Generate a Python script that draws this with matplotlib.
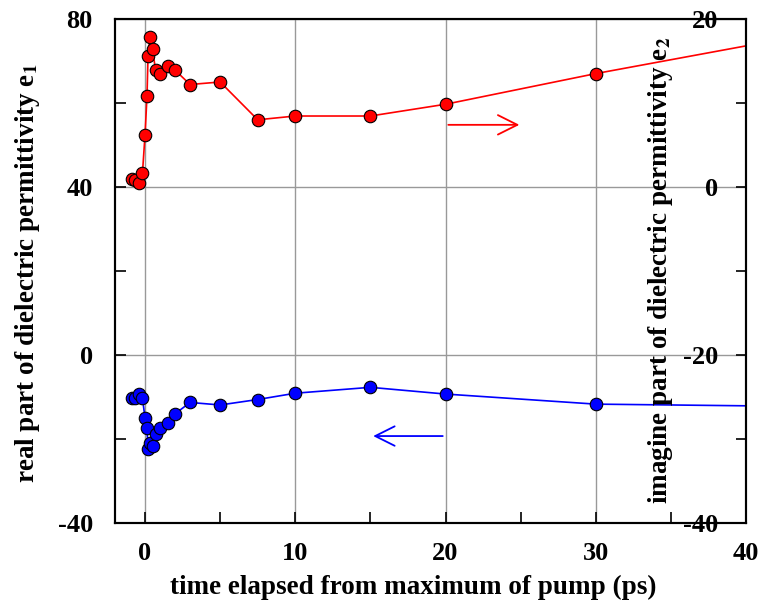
import matplotlib
matplotlib.use("Agg")
import matplotlib.pyplot as plt
from matplotlib.ticker import MultipleLocator

plt.rcParams['font.family'] = ['Liberation Serif', 'DejaVu Serif']
plt.rcParams['font.weight'] = 'bold'
plt.rcParams['axes.labelweight'] = 'bold'
plt.rcParams['axes.unicode_minus'] = False
plt.rcParams['mathtext.fontset'] = 'stix'

# time after pump maximum (ps)
t = [-0.9, -0.67, -0.37, -0.17, 0, 0.13, 0.2, 0.33, 0.5, 0.7,
     1, 1.5, 2, 3, 5, 7.5, 10, 15, 20, 30, 50]
# real part e1 (left axis)
e1 = [-10.3, -10.3, -9.4, -10.3, -15.1, -17.4, -22.4, -20.9, -21.7, -18.8,
      -17.4, -16.1, -14.0, -11.3, -11.9, -10.6, -9.1, -7.7, -9.3, -11.7, -12.5]
# imaginary part e2 (right axis)
e2 = [0.9, 0.8, 0.5, 1.7, 6.2, 10.8, 15.6, 17.9, 16.4, 13.9,
      13.5, 14.4, 13.9, 12.2, 12.5, 8.0, 8.45, 8.45, 9.85, 13.5, 20.1]

fig = plt.figure(figsize=(7.6, 6.01), dpi=100)
ax = fig.add_axes([0.1513, 0.1298, 0.8303, 0.8386])
ax2 = ax.twinx()

mk = dict(marker='o', markersize=9, markeredgecolor='black', markeredgewidth=0.8)
ax.plot(t, e1, color='blue', lw=1.2, markerfacecolor='blue', **mk)
ax2.plot(t, e2, color='red', lw=1.2, markerfacecolor='red', **mk)

ax.set_xlim(-2, 40)
ax.set_ylim(-40, 80)
ax2.set_ylim(-40, 20)

ax.xaxis.set_major_locator(MultipleLocator(10))
ax.xaxis.set_minor_locator(MultipleLocator(5))
ax.yaxis.set_major_locator(MultipleLocator(40))
ax.yaxis.set_minor_locator(MultipleLocator(20))
ax2.yaxis.set_major_locator(MultipleLocator(20))
ax2.yaxis.set_minor_locator(MultipleLocator(10))

ax.grid(True, which='major', color='#999999', lw=1)
ax.set_axisbelow(True)

ax.tick_params(axis='both', which='both', direction='in', top=False, right=False)
ax.tick_params(axis='both', which='major', length=8, width=1.2, labelsize=19)
ax.tick_params(axis='both', which='minor', length=8, width=1.2)
ax.tick_params(axis='x', which='major', pad=14)
ax.tick_params(axis='y', which='major', pad=16)
ax2.tick_params(axis='y', which='both', direction='in', length=7, width=1.2)
ax2.tick_params(axis='y', which='major', labelsize=19, pad=-20)
for lbl in ax2.get_yticklabels():
    lbl.set_horizontalalignment('right')

for a in (ax, ax2):
    for s in a.spines.values():
        s.set_linewidth(1.5)
        s.set_color('black')

ax.set_xlabel('time elapsed from maximum of pump (ps)', fontsize=19.5)
ax.xaxis.set_label_coords(0.473, -0.103)
ax.set_ylabel('real part of dielectric permittivity e$_1$', fontsize=19.5)
ax.yaxis.set_label_coords(-0.116, 0.495)
fig.text(0.869, 0.55, 'imagine part of dielectric permittivity e$_2$', fontsize=19.5,
         fontweight='bold', rotation=90, ha='center', va='center')

ax2.annotate('', xy=(25.1, 7.4), xytext=(20, 7.4),
             arrowprops=dict(arrowstyle='->', color='red', lw=1.3, mutation_scale=35))
ax.annotate('', xy=(15, -19.3), xytext=(20, -19.3),
            arrowprops=dict(arrowstyle='->', color='blue', lw=1.3, mutation_scale=35))

fig.savefig('out.png', dpi=100)
